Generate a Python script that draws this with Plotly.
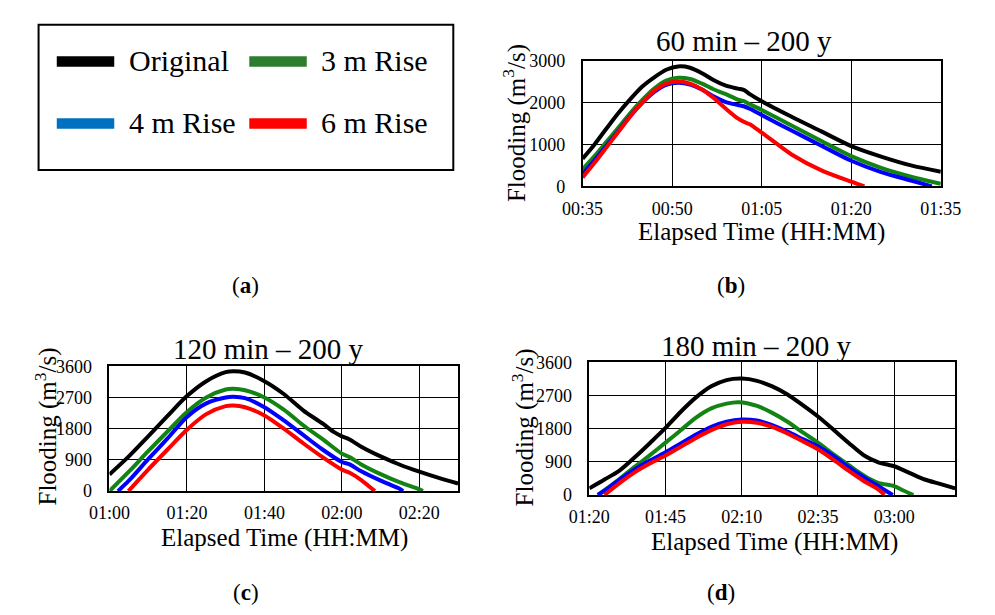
import plotly.graph_objects as go

FONT = "Liberation Serif"

# ---------------- data ----------------
SERIES = ["Original", "3 m Rise", "4 m Rise", "6 m Rise"]
LINE_COLORS = ["#000000", "#138413", "#0000FF", "#FF0000"]
LEGEND_COLORS = ["#000000", "#2E7D2E", "#0070C0", "#FF0000"]

# (b) 60 min - 200 y  (time in minutes)
b_t_orig = [35, 37, 39, 41, 43, 45, 47, 49, 51, 53, 55, 57, 59, 61, 62, 63, 65, 70, 75, 80, 85, 90, 95]
b_orig = [660, 1000, 1380, 1750, 2080, 2380, 2600, 2780, 2860, 2830, 2700, 2530, 2400, 2330, 2300, 2200, 2030, 1660, 1310, 960, 710, 500, 350]
b_t_3m = [35, 37, 39, 41, 43, 45, 47, 49, 51, 53, 55, 57, 59, 61, 62, 63, 65, 70, 75, 80, 85, 90, 95]
b_3m = [405, 720, 1060, 1400, 1750, 2060, 2330, 2520, 2590, 2560, 2450, 2310, 2200, 2070, 2030, 1960, 1820, 1450, 1080, 720, 440, 230, 60]
b_t_4m = [35, 37, 39, 41, 43, 45, 47, 49, 51, 53, 55, 57, 59, 61, 62, 63, 65, 70, 75, 80, 85, 90, 93.5]
b_4m = [290, 620, 970, 1320, 1680, 1990, 2250, 2420, 2470, 2430, 2310, 2140, 2010, 1940, 1910, 1850, 1700, 1330, 970, 610, 340, 140, 0]
b_t_6m = [35, 37, 39, 41, 43, 45, 47, 49, 51, 53, 55, 57, 59, 61, 62, 63, 65, 67, 70, 75, 80, 82.2]
b_6m = [210, 560, 930, 1300, 1670, 2000, 2280, 2450, 2500, 2450, 2310, 2100, 1850, 1620, 1540, 1480, 1280, 1070, 760, 380, 110, 0]

# (c) 120 min - 200 y
c_t_orig = [60, 65, 70, 75, 80, 85, 90, 92, 95, 100, 105, 110, 115, 118, 120, 122, 125, 130, 135, 140, 145, 150]
c_orig = [480, 1000, 1580, 2170, 2740, 3170, 3430, 3460, 3420, 3170, 2800, 2330, 1950, 1700, 1580, 1490, 1280, 1000, 760, 560, 380, 220]
c_t_3m = [60, 65, 70, 75, 80, 85, 90, 92, 95, 100, 105, 110, 115, 120, 122, 125, 130, 135, 140, 140.9]
c_3m = [0, 560, 1150, 1720, 2280, 2700, 2930, 2950, 2910, 2700, 2350, 1900, 1500, 1080, 980, 770, 490, 250, 50, 0]
c_t_4m = [62.2, 65, 70, 75, 80, 85, 90, 92, 95, 100, 105, 110, 115, 120, 122, 125, 130, 135, 135.8]
c_4m = [0, 300, 920, 1520, 2140, 2530, 2700, 2720, 2680, 2420, 2040, 1620, 1200, 840, 770, 570, 300, 60, 0]
c_t_6m = [64.9, 70, 75, 80, 85, 90, 92, 95, 100, 105, 110, 115, 120, 122, 125, 128.5]
c_6m = [0, 620, 1200, 1770, 2220, 2450, 2470, 2420, 2180, 1800, 1380, 980, 620, 530, 320, 0]

# (d) 180 min - 200 y
d_t_orig = [80, 85, 90, 95, 100, 105, 110, 115, 120, 125, 130, 135, 140, 145, 150, 155, 160, 165, 170, 175, 178, 180, 185, 190, 195, 200]
d_orig = [180, 420, 670, 1030, 1420, 1820, 2260, 2650, 2950, 3120, 3160, 3100, 2950, 2730, 2440, 2130, 1780, 1420, 1080, 880, 820, 780, 600, 420, 300, 180]
d_t_3m = [82.8, 85, 90, 95, 100, 105, 110, 115, 120, 125, 129, 135, 140, 145, 150, 155, 160, 165, 168, 172, 175, 180, 183, 186.3]
d_3m = [0, 130, 440, 770, 1090, 1420, 1760, 2100, 2350, 2480, 2520, 2420, 2230, 1990, 1700, 1420, 1110, 820, 640, 430, 320, 240, 120, 0]
d_t_4m = [82.8, 85, 90, 95, 100, 105, 110, 115, 120, 125, 130, 135, 140, 145, 150, 155, 160, 165, 170, 175, 179.5]
d_4m = [0, 120, 420, 700, 940, 1160, 1400, 1640, 1850, 1990, 2050, 2020, 1900, 1720, 1520, 1320, 1060, 760, 480, 230, 0]
d_t_6m = [85, 90, 95, 100, 105, 110, 115, 120, 125, 130, 135, 140, 145, 150, 155, 160, 165, 170, 175, 176.8]
d_6m = [0, 330, 620, 860, 1070, 1310, 1550, 1760, 1920, 1990, 1960, 1850, 1670, 1460, 1240, 960, 660, 380, 140, 0]

B_XTICKS = [35, 50, 65, 80, 95]
C_XTICKS = [60, 80, 100, 120, 140]
D_XTICKS = [80, 105, 130, 155, 180]
B_YTICKS = [0, 1000, 2000, 3000]
CD_YTICKS = [0, 900, 1800, 2700, 3600]

TITLES = ["60 min \u2013 200 y", "120 min \u2013 200 y", "180 min \u2013 200 y"]
X_TITLE = "Elapsed Time (HH:MM)"
Y_TITLE = "Flooding (m<sup>3</sup>/s)"
PANEL_LABELS = ["(<b>a</b>)", "(<b>b</b>)", "(<b>c</b>)", "(<b>d</b>)"]


def hhmm(m):
    return f"{int(m) // 60:02d}:{int(m) % 60:02d}"


W, H = 995, 615
OFF = 8  # page body margin


def px(x):
    return (x - OFF) / W


def py(y):
    return 1 - (y - OFF) / H


fig = go.Figure()

panels = [
    dict(ax="", t=[b_t_orig, b_t_3m, b_t_4m, b_t_6m], v=[b_orig, b_3m, b_4m, b_6m],
         xr=[35, 95], yr=[0, 3000], xt=B_XTICKS, yt=B_YTICKS,
         bx=(586, 960), by=(52, 182)),
    dict(ax="2", t=[c_t_orig, c_t_3m, c_t_4m, c_t_6m], v=[c_orig, c_3m, c_4m, c_6m],
         xr=[60, 150], yr=[0, 3600], xt=C_XTICKS, yt=CD_YTICKS,
         bx=(92, 456), by=(368, 497)),
    dict(ax="3", t=[d_t_orig, d_t_3m, d_t_4m, d_t_6m], v=[d_orig, d_3m, d_4m, d_6m],
         xr=[80, 200], yr=[0, 3600], xt=D_XTICKS, yt=CD_YTICKS,
         bx=(593, 975), by=(364, 501)),
]

layout_axes = {}
for p in panels:
    for i in range(4):
        fig.add_trace(go.Scatter(
            x=p["t"][i], y=p["v"][i], mode="lines", name=SERIES[i],
            line=dict(color=LINE_COLORS[i], width=4, shape="spline", smoothing=0.8),
            xaxis="x" + p["ax"], yaxis="y" + p["ax"], showlegend=False))
    common = dict(showline=True, mirror=True, linecolor="black", linewidth=1.5,
                  showgrid=True, gridcolor="black", gridwidth=1.3, zeroline=False,
                  ticks="", tickfont=dict(family=FONT, size=18, color="black"))
    layout_axes["xaxis" + p["ax"]] = dict(
        common, domain=[px(p["bx"][0]), px(p["bx"][1])], range=p["xr"],
        tickvals=p["xt"], ticktext=[hhmm(v) for v in p["xt"]],
        anchor="y" + p["ax"], ticklabelstandoff=5)
    layout_axes["yaxis" + p["ax"]] = dict(
        common, domain=[py(p["by"][1]), py(p["by"][0])], range=p["yr"],
        tickvals=p["yt"], anchor="x" + p["ax"], ticklabelstandoff=12)

fig.update_layout(**layout_axes)

ann = []
for (tx, ty), txt in zip([(755, 32), (258, 350), (768, 347)], TITLES):
    ann.append(dict(x=px(tx), y=py(ty), xref="paper", yref="paper", text=txt,
                    showarrow=False, font=dict(family=FONT, size=29, color="black"),
                    xanchor="center", yanchor="middle"))
for tx, ty in [(773, 229), (275, 545), (786, 550)]:
    ann.append(dict(x=px(tx), y=py(ty), xref="paper", yref="paper", text=X_TITLE,
                    showarrow=False, font=dict(family=FONT, size=25, color="black"),
                    xanchor="center", yanchor="middle"))
for tx, ty in [(515, 117), (26, 430), (524, 431)]:
    ann.append(dict(x=px(tx), y=py(ty), xref="paper", yref="paper", text=Y_TITLE,
                    showarrow=False, textangle=-90,
                    font=dict(family=FONT, size=25, color="black"),
                    xanchor="center", yanchor="middle"))
for (tx, ty), txt in zip([(234, 285), (741, 285), (235, 602), (730, 602)], PANEL_LABELS):
    ann.append(dict(x=px(tx), y=py(ty), xref="paper", yref="paper", text=txt,
                    showarrow=False, font=dict(family=FONT, size=23, color="black"),
                    xanchor="center", yanchor="middle"))

# legend (panel a)
shapes = [dict(type="rect", xref="paper", yref="paper",
               x0=px(18), x1=px(451), y0=py(165), y1=py(15),
               line=dict(color="black", width=2), fillcolor="white", layer="below")]
legend_pos = [(37, 53), (238, 53), (37, 117), (238, 117)]
for (lx, ly), idx in zip(legend_pos, range(4)):
    shapes.append(dict(type="rect", xref="paper", yref="paper",
                       x0=px(lx), x1=px(lx + 60), y0=py(ly + 5.5), y1=py(ly - 5.5),
                       line=dict(width=0), fillcolor=LEGEND_COLORS[idx]))
    ann.append(dict(x=px(lx + 73), y=py(ly - 1), xref="paper", yref="paper",
                    text=SERIES[idx], showarrow=False, xanchor="left", yanchor="middle",
                    font=dict(family=FONT, size=30, color="black")))

fig.update_layout(
    width=W, height=H, margin=dict(l=0, r=0, t=0, b=0),
    paper_bgcolor="white", plot_bgcolor="white",
    font=dict(family=FONT, color="black"),
    annotations=ann, shapes=shapes, showlegend=False,
)

fig.write_html("out.html")
